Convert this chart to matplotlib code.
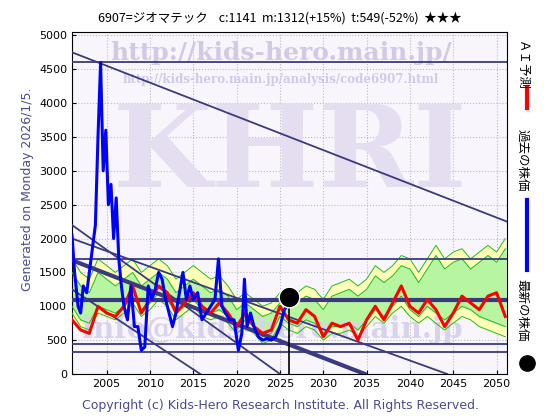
import matplotlib
matplotlib.use("Agg")
import matplotlib.pyplot as plt
import numpy as np

plt.rcParams['font.family'] = ['DejaVu Sans', 'Noto Sans CJK JP']

hist_x = [2001.0,2001.3,2001.7,2002.0,2002.3,2002.7,2003.0,2003.3,2003.7,2004.0,2004.3,2004.6,2004.9,2005.2,2005.5,2005.8,2006.1,2006.4,2006.7,2007.0,2007.4,2007.8,2008.2,2008.6,2009.0,2009.4,2009.8,2010.2,2010.6,2011.0,2011.4,2011.8,2012.2,2012.6,2013.0,2013.4,2013.8,2014.2,2014.6,2015.0,2015.5,2016.0,2016.5,2017.0,2017.5,2017.9,2018.3,2018.7,2019.2,2019.7,2020.2,2020.6,2020.9,2021.2,2021.6,2022.0,2022.5,2023.0,2023.5,2024.0,2024.5,2025.0,2025.5,2025.8]
hist_y = [2050,1500,1000,900,1300,1200,1500,1800,2200,3500,4600,3000,3600,2500,2800,2000,2600,1700,1300,1000,800,1300,700,700,350,400,1300,1100,1250,1500,1400,1100,900,700,900,1200,1500,1100,1300,1100,1200,800,900,1000,1100,1700,1000,900,800,800,350,600,1400,700,900,700,550,500,520,500,550,700,950,1000]
fc_x = list(range(2001, 2052))
fc_y = [800,650,600,1000,900,850,1000,1300,900,1100,1300,1200,900,1050,1200,1000,900,1050,900,700,900,700,600,650,1000,800,750,950,850,550,750,700,750,500,800,1000,800,1050,1300,1000,900,1100,950,700,900,1150,1050,950,1150,1200,850]
band_lo = [900,700,650,900,850,800,900,1050,850,950,1100,1000,800,900,1000,850,800,850,750,600,700,600,450,500,750,650,600,700,650,500,600,600,650,550,700,850,750,900,1000,850,750,850,750,650,750,850,800,700,650,600,550]
band_hi = [1700,1500,1400,1700,1600,1500,1600,1700,1500,1600,1700,1600,1400,1500,1600,1500,1400,1450,1300,1100,1200,1100,1000,1050,1200,1150,1200,1300,1250,1100,1300,1350,1400,1300,1400,1600,1500,1600,1750,1700,1500,1700,1900,1700,1800,1850,1700,1800,1900,1800,2000]
mid_lo = [1000,800,750,1000,950,900,1000,1150,950,1050,1200,1100,900,1000,1100,950,900,950,850,650,800,700,550,600,850,750,700,800,750,600,700,700,750,650,800,950,850,1000,1150,950,850,1000,900,800,900,1000,950,850,800,750,700]
mid_hi = [1500,1300,1200,1500,1400,1300,1400,1500,1300,1400,1500,1400,1200,1300,1400,1300,1200,1250,1150,950,1050,950,850,900,1050,1000,1050,1150,1100,950,1150,1200,1250,1150,1250,1450,1350,1450,1600,1550,1350,1550,1750,1550,1650,1700,1550,1650,1750,1650,1850]
hlines = [4600, 1700, 450, 320]
thick_h = 1100
diag = [((2001,4750),(2051.2,2250)), ((2001,2200),(2025,0)), ((2001,1250),(2015.8,0)), ((2001,2000),(2044.3,0))]
thick_diag = ((2001,1680),(2034.8,0))
last = (2026.0, 1141)
xticks = list(range(2005, 2051, 5))
yticks = list(range(0, 5001, 500))

fig = plt.figure(figsize=(5.6,4.2), dpi=100)
ax = fig.add_axes([72/560, 1-374/420, 435/560, 342/420])
ax.set_facecolor('#f8f6fc')
ax.set_xlim(2001, 2051.2); ax.set_ylim(0, 5050)
ax.grid(True, color='#bbbbbb', linestyle=':', linewidth=0.8)
ax.set_xticks(xticks); ax.set_yticks(yticks)
ax.tick_params(labelsize=8, direction='in', length=3)

wm = '#e4def0'
ax.text(0.5, 0.64, 'KHRI', transform=ax.transAxes, fontsize=82, color=wm, ha='center', va='center', family='DejaVu Serif', fontweight='bold', clip_on=True)
ax.text(0.48, 0.94, 'http://kids-hero.main.jp/', transform=ax.transAxes, fontsize=18, color='#d0cae6', ha='center', va='center', family='DejaVu Serif', fontweight='bold', clip_on=True)
ax.text(0.48, 0.86, 'http://kids-hero.main.jp/analysis/code6907.html', transform=ax.transAxes, fontsize=8.5, color='#d0cae6', ha='center', va='center', family='DejaVu Serif', fontweight='bold', clip_on=True)
ax.text(0.46, 0.13, 'info@kids-hero.main.jp', transform=ax.transAxes, fontsize=21, color='#d8d2ea', ha='center', va='center', family='DejaVu Serif', fontweight='bold', clip_on=True)

ax.fill_between(fc_x, band_lo, band_hi, color='#ffffb8', zorder=2)
ax.fill_between(fc_x, mid_lo, mid_hi, color='#b8f5a0', zorder=2)
for s in (band_lo, band_hi, mid_lo, mid_hi):
    ax.plot(fc_x, s, color='#22bb22', lw=0.7, zorder=3)
for h in hlines:
    ax.axhline(h, color='#3a3a80', lw=1.3, zorder=4)
ax.axhline(thick_h, color='#3a3a80', lw=3, zorder=4)
for (a, b) in diag:
    ax.plot([a[0], b[0]], [a[1], b[1]], color='#3a3a80', lw=1.3, zorder=4)
ax.plot([thick_diag[0][0], thick_diag[1][0]], [thick_diag[0][1], thick_diag[1][1]], color='#3a3a80', lw=3, zorder=4)
ax.plot(fc_x, fc_y, color='red', lw=2.2, zorder=5)
ax.plot(hist_x, hist_y, color='blue', lw=2.2, zorder=6)
ax.plot([last[0], last[0]], [0, last[1]], color='black', lw=1.2, zorder=6)
ax.scatter([last[0]], [last[1]], s=220, color='black', edgecolor='white', zorder=7)

fig.text(0.5, 1-18/420, '6907=ジオマテック    c:1141  m:1312(+15%)  t:549(-52%)  ★★★', ha='center', va='center', fontsize=9, family=['Noto Sans CJK JP','DejaVu Sans'])
fig.text(28/560, 0.55, 'Generated on Monday 2026/1/5.', rotation=90, ha='center', va='center', fontsize=9, color='#4a4a90')
fig.text(0.5, 1-405/420, 'Copyright (c) Kids-Hero Research Institute. All Rights Reserved.', ha='center', va='center', fontsize=9, color='#4a4a90')
rf = ['Noto Sans CJK JP', 'DejaVu Sans']
fig.text(522/560, 1-65/420, 'ＡＩ予測', rotation=270, ha='center', va='center', fontsize=9, family=rf)
fig.add_artist(plt.Line2D([527/560,527/560],[1-108/420,1-88/420], color='red', lw=3))
fig.text(522/560, 1-160/420, '過去の株価', rotation=270, ha='center', va='center', fontsize=9, family=rf)
fig.add_artist(plt.Line2D([527/560,527/560],[1-270/420,1-200/420], color='blue', lw=3))
fig.text(522/560, 1-310/420, '最新の株価', rotation=270, ha='center', va='center', fontsize=9, family=rf)
fig.add_artist(plt.Line2D([527/560],[1-363/420], marker='o', markersize=11, color='black'))
fig.savefig('out.png', dpi=100)
